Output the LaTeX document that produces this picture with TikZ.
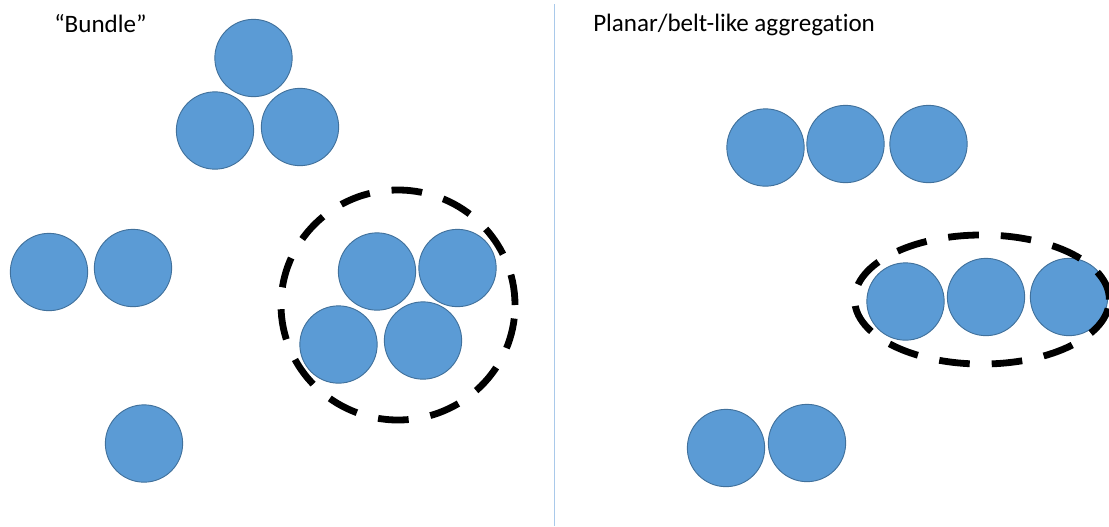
\documentclass[tikz,border=0pt]{standalone}
\usepackage{fontspec}
\setmainfont{Carlito}[Ligatures=NoCommon]
\definecolor{ballfill}{HTML}{5B9BD5}
\definecolor{balledge}{HTML}{41719C}
\definecolor{divider}{HTML}{A9C9EA}
\begin{document}
\begin{tikzpicture}[x=0.75pt,y=-0.75pt,
  ball/.style={circle,fill=ballfill,draw=balledge,line width=0.7pt,
    minimum size=58pt,inner sep=0pt},
  ring/.style={draw=black,line width=5.1pt,dash pattern=on 23pt off 16.5pt},
  heading/.style={anchor=base west,font=\fontsize{18.8}{22}\selectfont,inner sep=0pt}]
\useasboundingbox (0,0) rectangle (1109,526);

% divider between the two panels
\coordinate (dtop) at (554.3,4);
\coordinate (dbot) at (554.3,526);
\draw[divider,line width=0.9pt] (dtop) -- (dbot);

% headings
\node[heading] (hbundle) at (54,32) {“Bundle”};
\node[heading] (hplanar) at (593,31) {Planar/belt-like aggregation};

% left panel: three-ball bundle
\node[ball] (t1) at (253.5,58) {};
\node[ball] (t2) at (215,130.5) {};
\node[ball] (t3) at (300,127) {};

% left panel: pair and single
\node[ball] (p1) at (49,272) {};
\node[ball] (p2) at (133,268) {};
\node[ball] (s1) at (144,443.5) {};

% left panel: four-ball bundle inside a dashed ring
\node[ball] (q1) at (377,271.5) {};
\node[ball] (q2) at (457.5,268) {};
\node[ball] (q3) at (338.5,344.5) {};
\node[ball] (q4) at (423,340.5) {};
\draw[ring] (398,305) ellipse [x radius=87.75pt, y radius=86.25pt];

% right panel: belt of three
\node[ball] (b1) at (765.5,147.5) {};
\node[ball] (b2) at (845.5,144) {};
\node[ball] (b3) at (928.5,144) {};

% right panel: belt of three inside a dashed ring
\node[ball] (r1) at (905.5,301.5) {};
\node[ball] (r2) at (986,297) {};
\node[ball] (r3) at (1069,297) {};
\draw[ring] (982,299.5) ellipse [x radius=95.5pt, y radius=48.4pt];

% right panel: pair
\node[ball] (c1) at (726,448) {};
\node[ball] (c2) at (807,443) {};
\end{tikzpicture}
\end{document}
